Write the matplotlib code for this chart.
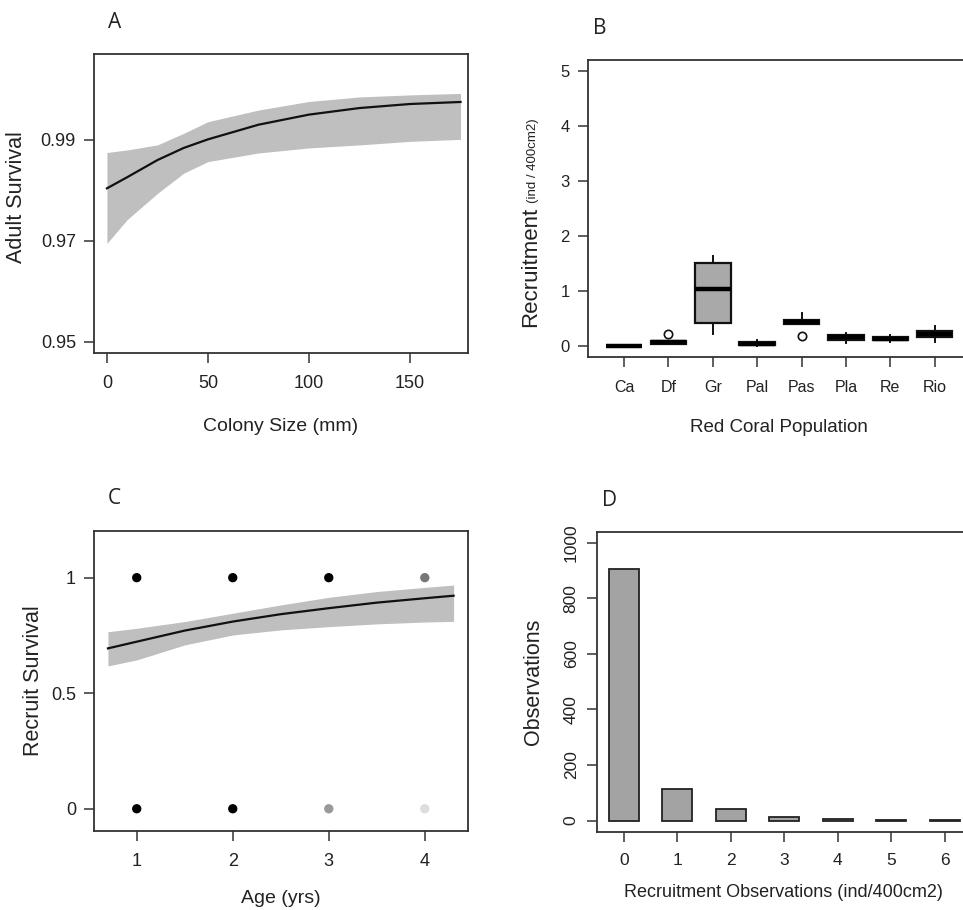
import numpy as np
import matplotlib
matplotlib.use("Agg")
import matplotlib.pyplot as plt

plt.rcParams['font.family'] = ['Liberation Sans', 'DejaVu Sans']

# A: adult survival vs colony size
adult_size = [0, 10, 25, 38, 50, 75, 100, 125, 150, 175]
adult_mean = [0.9804, 0.9826, 0.9860, 0.9884, 0.9901, 0.9930, 0.9950, 0.9963, 0.9971, 0.9975]
adult_upper = [0.9875, 0.9880, 0.9890, 0.9913, 0.9936, 0.9959, 0.9976, 0.9985, 0.9989, 0.9992]
adult_lower = [0.9695, 0.9742, 0.9794, 0.9834, 0.9857, 0.9874, 0.9884, 0.9890, 0.9897, 0.9901]

# B: recruitment per population (box stats)
populations = ['Ca', 'Df', 'Gr', 'Pal', 'Pas', 'Pla', 'Re', 'Rio']
rec_whislo = [0.0, 0.03, 0.21, 0.0, 0.40, 0.05, 0.06, 0.07]
rec_q1 = [0.0, 0.03, 0.42, 0.02, 0.40, 0.10, 0.10, 0.16]
rec_med = [0.0, 0.06, 1.03, 0.04, 0.44, 0.15, 0.13, 0.22]
rec_q3 = [0.0, 0.08, 1.51, 0.065, 0.47, 0.19, 0.16, 0.27]
rec_whishi = [0.0, 0.08, 1.63, 0.10, 0.59, 0.24, 0.20, 0.35]
rec_outliers = [[], [0.22], [], [], [0.18], [], [], []]

# C: recruit survival vs age
age = [0.7, 1, 1.5, 2, 2.5, 3, 3.5, 4, 4.3]
recruit_mean = [0.694, 0.723, 0.771, 0.810, 0.842, 0.868, 0.892, 0.911, 0.922]
recruit_upper = [0.766, 0.781, 0.810, 0.846, 0.882, 0.915, 0.940, 0.958, 0.968]
recruit_lower = [0.618, 0.644, 0.709, 0.752, 0.774, 0.788, 0.800, 0.808, 0.811]
obs_age = [1, 2, 3, 4, 1, 2, 3, 4]
obs_surv = [1, 1, 1, 1, 0, 0, 0, 0]
obs_col = ['#000000', '#000000', '#000000', '#777777',
           '#000000', '#000000', '#999999', '#dddddd']

# D: histogram of recruitment observations
rec_classes = ['0', '1', '2', '3', '4', '5', '6']
rec_counts = [905, 115, 40, 12, 4, 2, 3]

W, H = 963, 910
fig = plt.figure(figsize=(W / 100, H / 100), dpi=100)

def box(l, t, r, b):
    return [l / W, 1 - b / H, (r - l) / W, (b - t) / H]

spine_c = '#333333'
txt_c = '#222222'

def style(ax, ls=12.5):
    for s in ax.spines.values():
        s.set_color(spine_c)
        s.set_linewidth(1.3)
    ax.tick_params(direction='out', length=7, width=1.1, color=spine_c,
                   labelsize=ls, labelcolor=txt_c, pad=6)

# ---- A
axA = fig.add_axes(box(94, 54, 468, 353))
axA.fill_between(adult_size, adult_lower, adult_upper, color='#bfbfbf', lw=0)
axA.plot(adult_size, adult_mean, color='#111111', lw=1.6)
axA.set_xlim(-6.4, 178.7)
axA.set_ylim(0.9478, 1.007)
axA.set_xticks([0, 50, 100, 150])
axA.set_yticks([0.95, 0.97, 0.99])
axA.set_yticklabels(['0.95', '0.97', '0.99'])
style(axA, 13)
axA.tick_params(axis='x', pad=9)
axA.text(0.5, -0.247, 'Colony Size (mm)', transform=axA.transAxes, ha='center',
         va='center', fontsize=14, color=txt_c)
axA.text(-0.206, 0.52, 'Adult Survival', transform=axA.transAxes, ha='center',
         va='center', rotation=90, fontsize=15.5, color=txt_c)

# ---- B
axB = fig.add_axes(box(587.7, 60, 971, 356.7))
stats = []
for i in range(len(populations)):
    stats.append(dict(whislo=rec_whislo[i], q1=rec_q1[i], med=rec_med[i],
                      q3=rec_q3[i], whishi=rec_whishi[i], fliers=rec_outliers[i]))
axB.bxp(stats, positions=range(1, len(populations) + 1), widths=0.8,
        patch_artist=True, showcaps=False,
        boxprops=dict(facecolor='#a9a9a9', edgecolor='#111111', lw=1.6),
        medianprops=dict(color='#000000', lw=3.2, solid_capstyle='butt'),
        whiskerprops=dict(color='#111111', lw=1.4),
        flierprops=dict(marker='o', markersize=6, markerfacecolor='white',
                        markeredgecolor='#111111', markeredgewidth=1.2))
axB.set_xlim(0.18, 8.82)
axB.set_ylim(-0.2, 5.2)
axB.set_yticks([0, 1, 2, 3, 4, 5])
axB.set_xticks(range(1, len(populations) + 1))
axB.set_xticklabels(populations)
style(axB, 12)
axB.tick_params(axis='x', labelsize=11.5, pad=10)
axB.text(0.5, -0.240, 'Red Coral Population', transform=axB.transAxes,
         ha='center', va='center', fontsize=13.5, color=txt_c)
axB.text(-0.148, 0.5045, 'Recruitment', transform=axB.transAxes, ha='center',
         va='top', rotation=90, fontsize=16, color=txt_c)
axB.text(-0.143, 0.518, '(ind / 400cm2)', transform=axB.transAxes, ha='center',
         va='bottom', rotation=90, fontsize=9.5, color=txt_c)

# ---- C
axC = fig.add_axes(box(94, 531, 468, 830.7))
axC.fill_between(age, recruit_lower, recruit_upper, color='#bfbfbf', lw=0)
axC.plot(age, recruit_mean, color='#111111', lw=1.6)
axC.scatter(obs_age, obs_surv, c=obs_col, s=45, zorder=3, linewidths=0)
axC.set_xlim(0.555, 4.45)
axC.set_ylim(-0.095, 1.202)
axC.set_xticks([1, 2, 3, 4])
axC.set_yticks([0, 0.5, 1])
axC.set_yticklabels(['0', '0.5', '1'])
style(axC, 13)
axC.tick_params(axis='x', pad=9)
axC.text(0.5, -0.2246, 'Age (yrs)', transform=axC.transAxes, ha='center',
         va='center', fontsize=14, color=txt_c)
axC.text(-0.163, 0.5, 'Recruit Survival', transform=axC.transAxes, ha='center',
         va='center', rotation=90, fontsize=15.5, color=txt_c)

# ---- D
axD = fig.add_axes(box(596.7, 531.7, 971, 831.7))
xpos = np.arange(len(rec_classes))
axD.bar(xpos, rec_counts, width=0.56, color='#a3a3a3', edgecolor='#222222', lw=1.3)
axD.set_xlim(-0.51, 6.49)
axD.set_ylim(-40, 1040)
axD.set_xticks(xpos)
axD.set_xticklabels(rec_classes)
axD.set_yticks([0, 200, 400, 600, 800, 1000])
style(axD, 12.5)
axD.tick_params(axis='x', pad=8)
for lab in axD.get_yticklabels():
    lab.set_rotation(90)
    lab.set_va('center')
axD.text(0.5, -0.204, 'Recruitment Observations (ind/400cm2)',
         transform=axD.transAxes, ha='center', va='center', fontsize=13,
         color=txt_c)
axD.text(-0.170, 0.5, 'Observations', transform=axD.transAxes, ha='center',
         va='center', rotation=90, fontsize=15.5, color=txt_c)

# panel letters
for letter, px, py in [('A', 114.5, 23), ('B', 599.5, 28), ('C', 114.5, 498), ('D', 609.5, 500)]:
    fig.text(px / W, 1 - py / H, letter, ha='center', va='center', fontsize=15,
             family=['Open Sans', 'DejaVu Sans'], color=txt_c)

fig.savefig('out.png', dpi=100)
